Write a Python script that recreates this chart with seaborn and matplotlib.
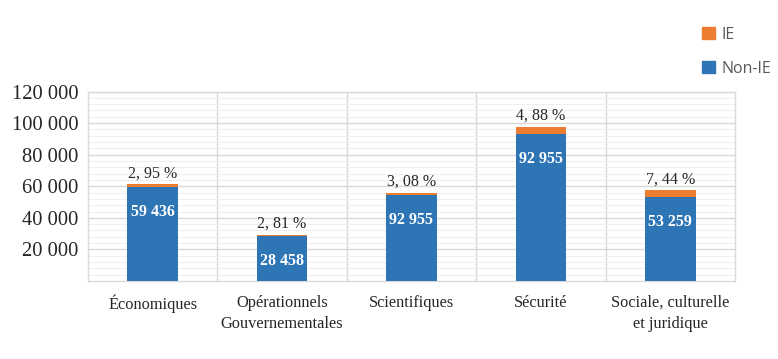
import pandas as pd
import matplotlib
matplotlib.use("Agg")
import matplotlib.pyplot as plt
import seaborn as sns
from matplotlib.patches import Patch
from matplotlib.ticker import MultipleLocator, FixedLocator, FuncFormatter

# --- Data ---
categories = ["Économiques", "Opérationnels\nGouvernementales", "Scientifiques",
              "Sécurité", "Sociale, culturelle\net juridique"]
non_ie = [59436, 28458, 54300, 92955, 53259]
ie = [1807, 823, 1725, 4770, 4281]
value_labels = ["59 436", "28 458", "92 955", "92 955", "53 259"]
pct_labels = ["2, 95 %", "2, 81 %", "3, 08 %", "4, 88 %", "7, 44 %"]

BLUE = "#2E75B6"
ORANGE = "#ED7D31"
GRID = "#d9d9d9"
TEXT = "#262626"

sns.set_theme(style="white")
plt.rcParams["font.family"] = ["Liberation Serif", "DejaVu Serif"]

df = pd.DataFrame({"cat": categories, "non_ie": non_ie, "ie": ie})
df["total"] = df["non_ie"] + df["ie"]

fig = plt.figure(figsize=(7.78, 3.59), dpi=100)
ax = fig.add_axes([0.1131, 0.2173, 0.8316, 0.5277])

# stacked: total (orange) behind, non-IE (blue) in front
sns.barplot(data=df, x="cat", y="total", color=ORANGE, width=0.39,
            saturation=1, linewidth=0, ax=ax, zorder=3)
sns.barplot(data=df, x="cat", y="non_ie", color=BLUE, width=0.39,
            saturation=1, linewidth=0, ax=ax, zorder=3)

ax.set_xlim(-0.5, len(categories) - 0.5)
ax.set_ylim(0, 120000)
ax.set_xlabel("")
ax.set_ylabel("")

# grid
ax.yaxis.set_major_locator(FixedLocator([20000, 40000, 60000, 80000, 100000, 120000]))
ax.yaxis.set_minor_locator(MultipleLocator(4000))
ax.xaxis.set_minor_locator(FixedLocator([i + 0.5 for i in range(len(categories) - 1)]))
ax.grid(which="major", axis="y", color=GRID, linewidth=1, zorder=0)
ax.grid(which="minor", axis="y", color="#efefef", linewidth=0.8, zorder=0)
ax.grid(which="minor", axis="x", color=GRID, linewidth=1, zorder=0)
ax.set_axisbelow(True)

ax.yaxis.set_major_formatter(FuncFormatter(lambda v, p: f"{int(v):,}".replace(",", " ")))
ax.tick_params(axis="y", which="both", length=0, labelsize=14.8, labelcolor=TEXT, pad=7)
ax.tick_params(axis="x", which="both", length=0, labelsize=11.8, labelcolor=TEXT, pad=10)
for lbl in ax.get_xticklabels():
    lbl.set_linespacing(1.4)

for s in ax.spines.values():
    s.set_color(GRID)
    s.set_linewidth(1)

# labels
for i, row in df.iterrows():
    ax.annotate(value_labels[i], (i, row["non_ie"]), xytext=(0, -18),
                textcoords="offset points", ha="center", va="center",
                color="white", fontweight="bold", fontsize=11.5, zorder=5)
    ax.annotate(pct_labels[i], (i, row["total"]), xytext=(0, 2),
                textcoords="offset points", ha="center", va="bottom",
                color=TEXT, fontsize=11.5, zorder=5)

handles = [Patch(color=ORANGE, label="IE"), Patch(color=BLUE, label="Non-IE")]
leg = fig.legend(handles=handles, loc="upper left", bbox_to_anchor=(0.884, 0.965),
                 frameon=False, handlelength=0.8, handleheight=0.8,
                 handletextpad=0.4, labelspacing=1.1,
                 prop={"family": "Open Sans", "size": 11.5})
for t in leg.get_texts():
    t.set_color("#595959")

fig.savefig("out.png", dpi=100)
